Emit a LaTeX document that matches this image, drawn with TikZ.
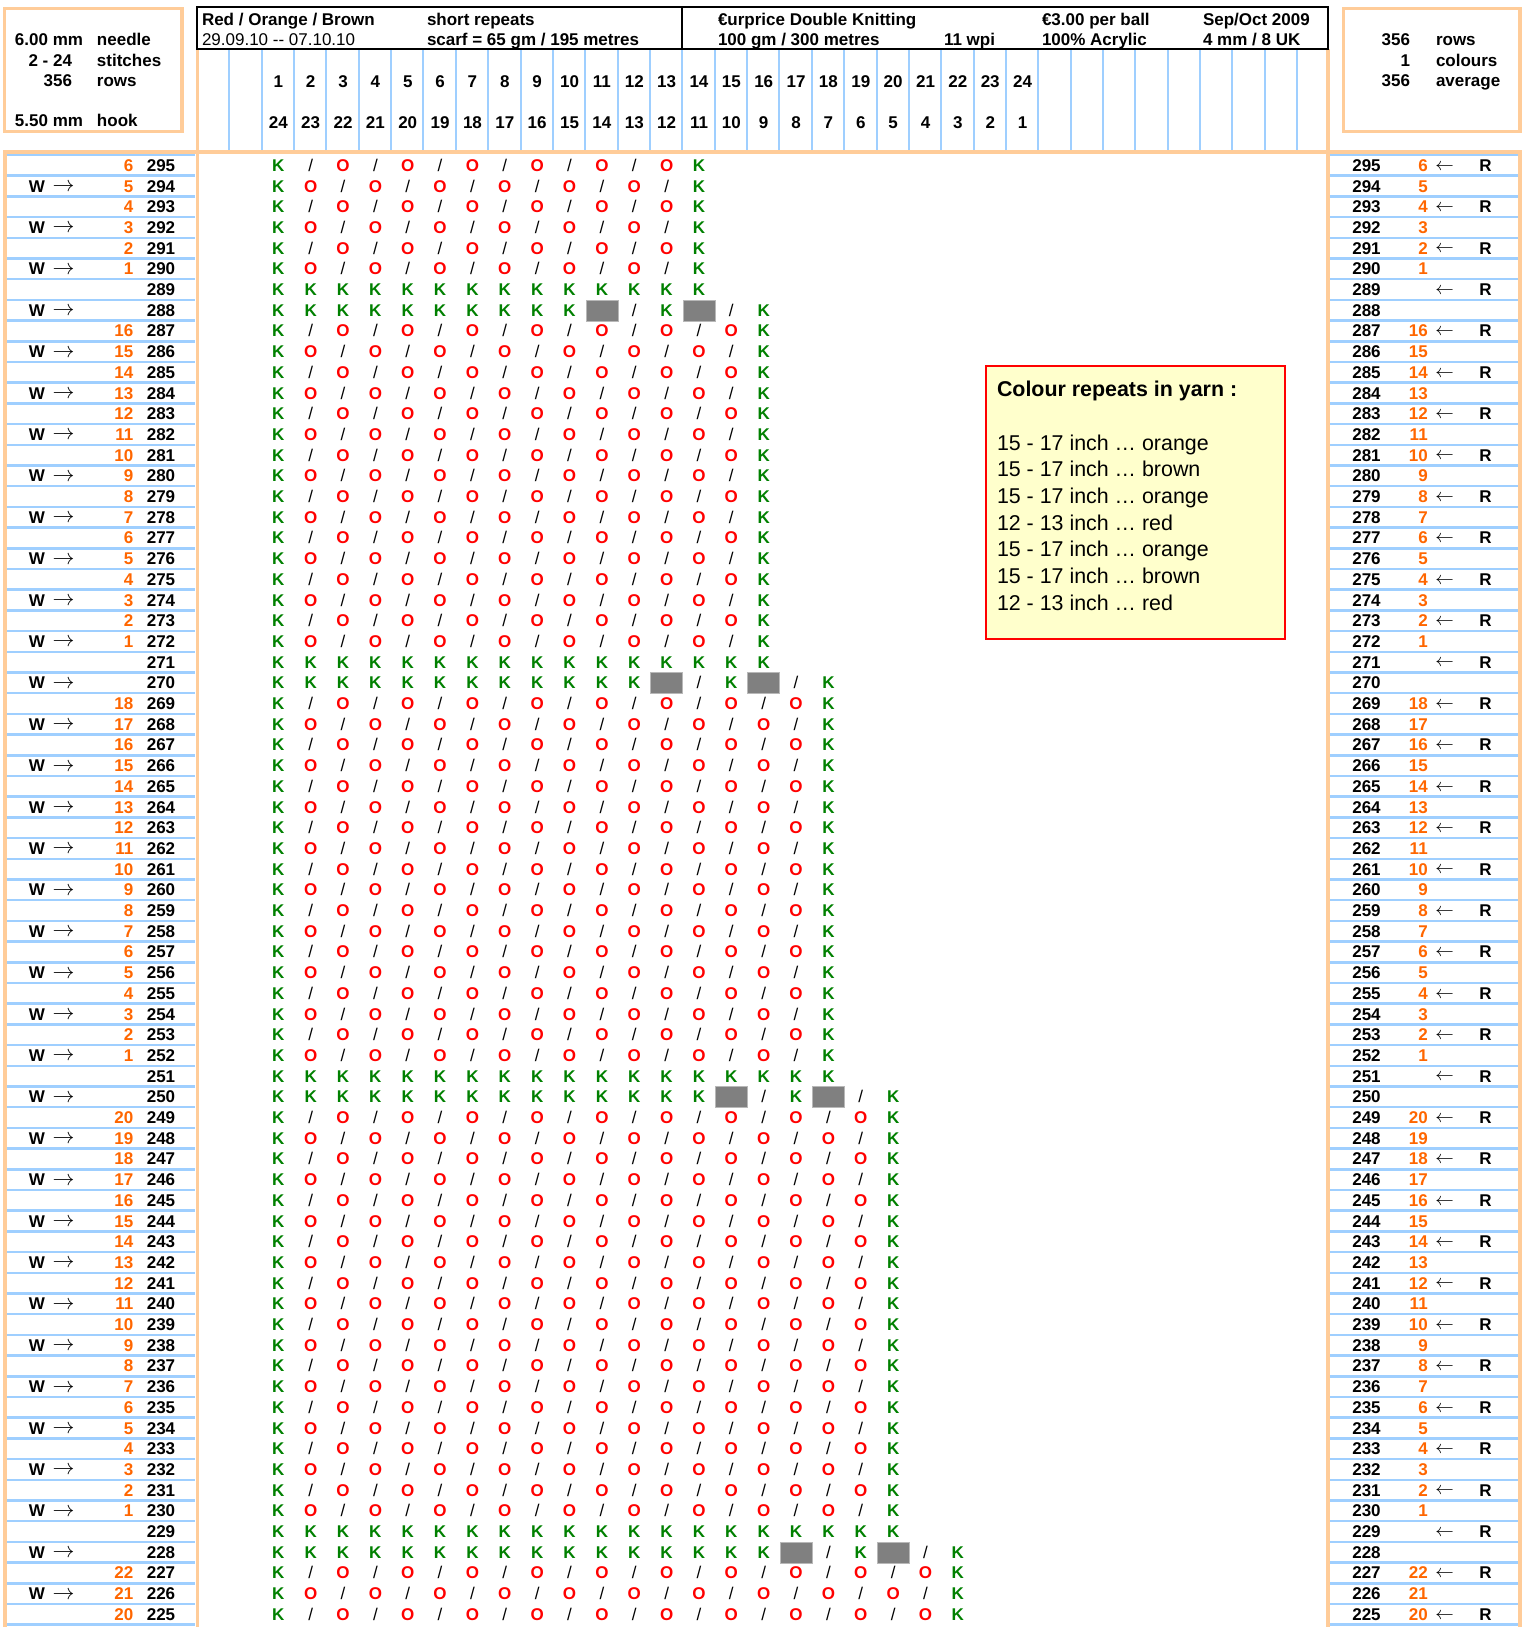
\documentclass[tikz,border=0pt]{standalone}
\usepackage{fontspec}
\setmainfont{Liberation Sans}
\definecolor{borange}{HTML}{FFCC99}
\definecolor{lblue}{HTML}{9FCFFF}
\definecolor{kgreen}{HTML}{008000}
\definecolor{ored}{HTML}{FF0000}
\definecolor{numorange}{HTML}{FF6600}
\definecolor{legfill}{HTML}{FFFFCC}
\definecolor{gbox}{HTML}{808080}
\definecolor{gedge}{HTML}{B8B8B8}
\begin{document}
\begin{tikzpicture}[x=0.5pt,y=-0.5pt,
  every node/.style={inner sep=0pt,outer sep=0pt},
  bt/.style={font=\fontsize{8.5}{10}\selectfont\bfseries},
  rt/.style={font=\fontsize{8.5}{10}\selectfont},
  kst/.style={bt,text=kgreen,anchor=base},
  ost/.style={bt,text=ored,anchor=base},
  slst/.style={rt,anchor=base},
  onum/.style={bt,text=numorange,anchor=base east},
  larr/.style={font=\fontsize{10.5}{10}\selectfont},
  rarr/.style={font=\fontsize{9.2}{10}\selectfont},
  gcell/.style={fill=gbox,draw=gedge,line width=0.4pt,minimum width=16pt,minimum height=10.4pt},
  obox/.style={draw=borange,line width=1.75pt},
  bline/.style={draw=lblue,line width=1.25pt},
  hline/.style={draw=lblue,line width=1pt},
  legt/.style={font=\fontsize{10.7}{12}\selectfont,anchor=base west},
]
\useasboundingbox (0,0) rectangle (1527,1635);

% side-box ruled lines
\foreach \k in {0,...,71} {
  \pgfmathsetmacro\yy{155+20.7*\k}
  \draw[bline] (7,\yy) -- (195,\yy);
  \draw[bline] (1330,\yy) -- (1518,\yy);
}
% header column lines
\foreach \j in {0,...,33} {
  \pgfmathsetmacro\xx{229.3+32.36*\j}
  \draw[hline] (\xx,50) -- (\xx,151);
}
% orange frames
\draw[obox] (4.5,8.5) rectangle (182,131.5);
\draw[obox] (1343.5,8.5) rectangle (1520,131.5);
\draw[obox] (3,152) -- (1522,152);
\draw[obox] (5,151) -- (5,1627);
\draw[obox] (197.5,49) -- (197.5,1627);
\draw[obox] (1328,49) -- (1328,1627);
\draw[obox] (1520,151) -- (1520,1627);

% header box
\draw[black,line width=1pt] (197,7) rectangle (1328,49);
\draw[black,line width=1pt] (682,7) -- (682,49);
\node[bt,anchor=base west] (h1) at (202,25.7) {Red / Orange / Brown};
\node[rt,anchor=base west] (h2) at (202,45.7) {29.09.10 -{}- 07.10.10};
\node[bt,anchor=base west] (h3) at (427,25.7) {short repeats};
\node[bt,anchor=base west] (h4) at (427,45.7) {scarf = 65 gm / 195 metres};
\node[bt,anchor=base west] (h5) at (718,25.7) {€urprice Double Knitting};
\node[bt,anchor=base west] (h6) at (718,45.7) {100 gm / 300 metres};
\node[bt,anchor=base west] (h7) at (944,45.7) {11 wpi};
\node[bt,anchor=base west] (h8) at (1042,25.7) {€3.00 per ball};
\node[bt,anchor=base west] (h9) at (1042,45.7) {100\% Acrylic};
\node[bt,anchor=base west] (h10) at (1203,25.7) {Sep/Oct 2009};
\node[bt,anchor=base west] (h11) at (1203,45.7) {4 mm / 8 UK};

% left info box
\node[bt,anchor=base west] (i1a) at (15,45) {6.00 mm};
\node[bt,anchor=base west] (i1b) at (97,45) {needle};
\node[bt,anchor=base east] (i2a) at (72,66) {2 - 24};
\node[bt,anchor=base west] (i2b) at (97,66) {stitches};
\node[bt,anchor=base east] (i3a) at (72,86) {356};
\node[bt,anchor=base west] (i3b) at (97,86) {rows};
\node[bt,anchor=base west] (i4a) at (15,126) {5.50 mm};
\node[bt,anchor=base west] (i4b) at (97,126) {hook};

% right info box
\node[bt,anchor=base east] (r1a) at (1410,45) {356};
\node[bt,anchor=base west] (r1b) at (1436,45) {rows};
\node[bt,anchor=base east] (r2a) at (1410,66) {1};
\node[bt,anchor=base west] (r2b) at (1436,66) {colours};
\node[bt,anchor=base east] (r3a) at (1410,86) {356};
\node[bt,anchor=base west] (r3b) at (1436,86) {average};

% header column numbers
\foreach \c in {1,...,24} {
  \pgfmathsetmacro\xx{278.3+32.36*(\c-1)}
  \pgfmathtruncatemacro\cc{25-\c}
  \node[bt,anchor=base] (ht-\c) at (\xx,87) {\c};
  \node[bt,anchor=base] (hb-\c) at (\xx,128) {\cc};
}

% row labels
\foreach \i in {0,...,70} {
  \pgfmathtruncatemacro\n{295-\i}
  \pgfmathsetmacro\yb{171.35+20.7*\i}
  \pgfmathsetmacro\yc{166.8+20.7*\i}
  \node[bt,anchor=base] (ln-\n) at (161,\yb) {\n};
  \node[bt,anchor=base] (rn-\n) at (1366.5,\yb) {\n};
  \ifodd\n
    \node[rarr] (ra-\n) at (1444.5,\yc) {$\leftarrow$};
    \node[bt,anchor=base] (rr-\n) at (1485.5,\yb) {R};
  \else
    \node[bt,anchor=base] (lw-\n) at (37,\yb) {W};
    \node[larr] (la-\n) at (63.5,\yc) {$\rightarrow$};
  \fi
}

% stitch pattern
\foreach \s/\f/\w/\full in {295/6/14/1,287/16/16/1,269/18/18/1,249/20/20/1,227/22/22/0} {
  \pgfmathtruncatemacro\nrows{\full==1 ? \f : 3}
  \foreach \k in {1,...,\nrows} {
    \pgfmathtruncatemacro\n{\s-\k+1}
    \pgfmathtruncatemacro\o{\f-\k+1}
    \pgfmathtruncatemacro\i{295-\n}
    \pgfmathsetmacro\yb{171.35+20.7*\i}
    \node[onum] (lo-\n) at (133.3,\yb) {\o};
    \node[onum] (ro-\n) at (1427.7,\yb) {\o};
    \foreach \c in {1,...,\w} {
      \pgfmathsetmacro\xx{278.3+32.36*(\c-1)}
      \pgfmathtruncatemacro\pp{mod(\c+\o,2)}
      \ifnum\c=1\relax
        \node[kst] (s-\n-\c) at (\xx,\yb) {K};
      \else\ifnum\c=\w\relax
        \node[kst] (s-\n-\c) at (\xx,\yb) {K};
      \else\ifnum\pp=0\relax
        \node[slst] (s-\n-\c) at (\xx,\yb) {/};
      \else
        \node[ost] (s-\n-\c) at (\xx,\yb) {O};
      \fi\fi\fi
    }
  }
  \ifnum\full=1\relax
    % all-K row
    \pgfmathtruncatemacro\n{\s-\f}
    \pgfmathtruncatemacro\i{295-\n}
    \pgfmathsetmacro\yb{171.35+20.7*\i}
    \foreach \c in {1,...,\w} {
      \pgfmathsetmacro\xx{278.3+32.36*(\c-1)}
      \node[kst] (s-\n-\c) at (\xx,\yb) {K};
    }
    % transition row
    \pgfmathtruncatemacro\n{\s-\f-1}
    \pgfmathtruncatemacro\i{295-\n}
    \pgfmathsetmacro\yb{171.35+20.7*\i}
    \pgfmathsetmacro\yc{165.6+20.7*\i}
    \pgfmathtruncatemacro\wk{\w-4}
    \foreach \c in {1,...,\wk} {
      \pgfmathsetmacro\xx{278.3+32.36*(\c-1)}
      \node[kst] (s-\n-\c) at (\xx,\yb) {K};
    }
    \pgfmathsetmacro\xa{278.3+32.36*(\w-4)}
    \pgfmathsetmacro\xb{278.3+32.36*(\w-3)}
    \pgfmathsetmacro\xcc{278.3+32.36*(\w-2)}
    \pgfmathsetmacro\xd{278.3+32.36*(\w-1)}
    \pgfmathsetmacro\xe{278.3+32.36*(\w)}
    \pgfmathsetmacro\xf{278.3+32.36*(\w+1)}
    \node[gcell] (g1-\n) at (\xa,\yc) {};
    \node[slst] (t1-\n) at (\xb,\yb) {/};
    \node[kst] (t2-\n) at (\xcc,\yb) {K};
    \node[gcell] (g2-\n) at (\xd,\yc) {};
    \node[slst] (t3-\n) at (\xe,\yb) {/};
    \node[kst] (t4-\n) at (\xf,\yb) {K};
  \fi
}

% legend
\node[draw=red,line width=1pt,fill=legfill,minimum width=149.5pt,minimum height=136.5pt,anchor=north west] (legend) at (986,366) {};
\node[legt,font=\fontsize{10.7}{12}\selectfont\bfseries] (lg0) at (997,396) {Colour repeats in yarn :};
\node[legt] (lg1) at (997,450) {15 - 17 inch … orange};
\node[legt] (lg2) at (997,476.7) {15 - 17 inch … brown};
\node[legt] (lg3) at (997,503.3) {15 - 17 inch … orange};
\node[legt] (lg4) at (997,530) {12 - 13 inch … red};
\node[legt] (lg5) at (997,556.7) {15 - 17 inch … orange};
\node[legt] (lg6) at (997,583.3) {15 - 17 inch … brown};
\node[legt] (lg7) at (997,610) {12 - 13 inch … red};
\end{tikzpicture}
\end{document}
